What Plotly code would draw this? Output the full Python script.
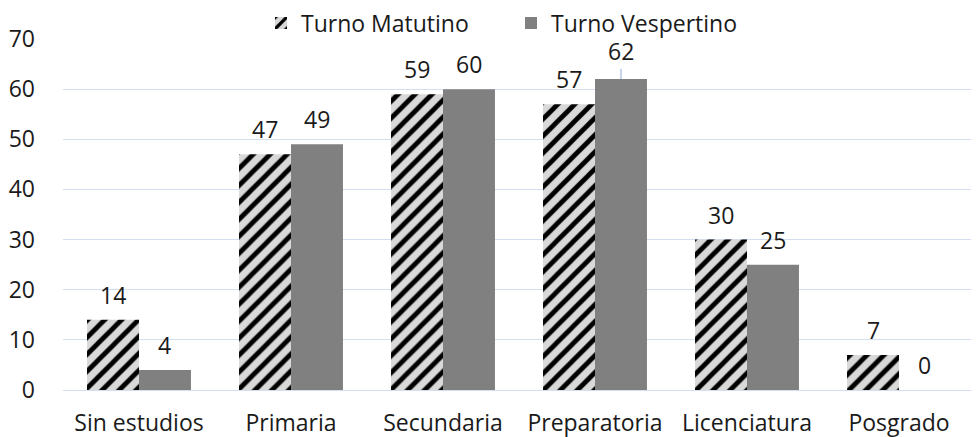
import plotly.graph_objects as go

categories = ["Sin estudios", "Primaria", "Secundaria", "Preparatoria", "Licenciatura", "Posgrado"]
matutino = [14, 47, 59, 57, 30, 7]
vespertino = [4, 49, 60, 62, 25, 0]
series_names = ["Turno Matutino", "Turno Vespertino"]
y_ticks = [0, 10, 20, 30, 40, 50, 60, 70]

FONT = "Open Sans"
FS = 23
TXT = "#1a1a1a"
bargap = 0.316

# the page body has an 8px default margin; size the figure to fit the window
W, H, OFF = 971, 429, 8

fig = go.Figure()
fig.add_trace(go.Bar(
    name=series_names[0], x=categories, y=matutino,
    marker=dict(color="#d9d9d9", line=dict(width=0),
                pattern=dict(shape="/", fgcolor="black", fgopacity=1, bgcolor="#d9d9d9",
                             size=12, solidity=0.4)),
))
fig.add_trace(go.Bar(
    name=series_names[1], x=categories, y=vespertino,
    marker=dict(color="#808080", line=dict(width=0)),
))

half = (1 - bargap) / 4
annotations = []
imax = vespertino.index(max(vespertino))
for vals, sign in ((matutino, -1), (vespertino, 1)):
    for i, v in enumerate(vals):
        lifted = (sign == 1 and i == imax)
        annotations.append(dict(
            x=i + sign * half, y=v, xref="x", yref="y", text=str(v),
            showarrow=False, yanchor="middle", yshift=28 if lifted else 25,
            font=dict(family=FONT, size=FS, color=TXT),
        ))

shapes = [dict(type="line", xref="x", yref="y",
               x0=imax + half, x1=imax + half,
               y0=max(vespertino), y1=max(vespertino) + 2.0,
               line=dict(color="#9db8df", width=1.2))]

fig.update_layout(
    barmode="group", bargap=bargap, bargroupgap=0,
    width=W, height=H,
    margin=dict(l=63 - OFF, r=4, t=39 - OFF, b=47, autoexpand=False),
    paper_bgcolor="white", plot_bgcolor="white",
    font=dict(family=FONT, size=FS, color=TXT),
    legend=dict(orientation="h", xref="container", yref="container",
                x=(275 - OFF - 14) / W, xanchor="left", y=1 - (23 - OFF) / H, yanchor="middle",
                font=dict(family=FONT, size=FS, color=TXT), tracegroupgap=0,
                itemwidth=30, entrywidth=205),
    annotations=annotations, shapes=shapes,
    xaxis=dict(showgrid=False, showline=False, ticks="", ticklabelstandoff=17,
               tickfont=dict(family=FONT, size=FS, color=TXT)),
    yaxis=dict(range=[0, 70], tickvals=y_ticks, showgrid=True, gridcolor="#d3dff0",
               gridwidth=1.3, zeroline=True, zerolinecolor="#d3dff0", zerolinewidth=1.3,
               tickfont=dict(family=FONT, size=FS, color=TXT), ticklabelstandoff=27),
)

fig.write_html("out.html")
